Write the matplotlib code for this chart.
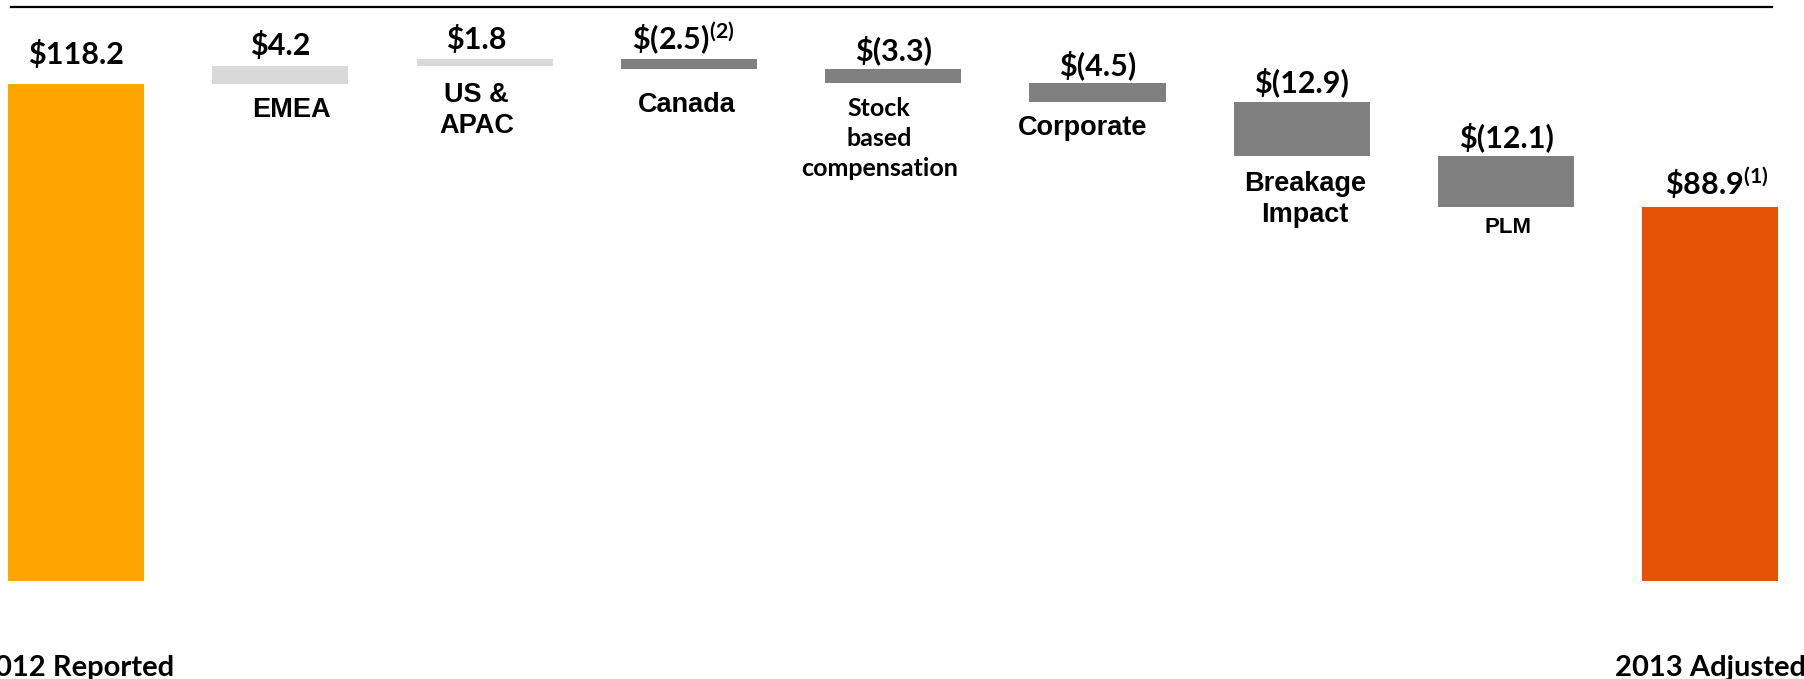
import matplotlib
matplotlib.use("Agg")
import matplotlib.pyplot as plt

# waterfall data (USD millions)
names = ["2012 Reported", "EMEA", "US &\nAPAC", "Canada", "Stock\nbased\ncompensation",
         "Corporate", "Breakage\nImpact", "PLM", "2013 Adjusted"]
values = [118.2, 4.2, 1.8, -2.5, -3.3, -4.5, -12.9, -12.1, 88.9]
value_text = ["$118.2", "$4.2", "$1.8", "$(2.5)", "$(3.3)", "$(4.5)", "$(12.9)", "$(12.1)", "$88.9"]
notes = ["", "", "", "(2)", "", "", "", "", "(1)"]
is_total = [True, False, False, False, False, False, False, False, True]

# layout tweaks, in pixels
val_gap = [20, 11, 10, 9, 9, 8, 10, 9, 12]
val_dx = [0, 0, -8, -6, 0, 0, 0, 0, 6]
name_gap = [74, 13, 16, 23, 14, 13, 15, 10, 74]
name_dx = [0, 11, -8, -2, -14, -15, 3, 2, 0]

plt.rcParams['mathtext.default'] = 'regular'
px = 0.72  # points per pixel at dpi 100

fig = plt.figure(figsize=(18.04, 6.79), dpi=100)
ax = fig.add_axes([0, 0, 1, 1])
ax.axis('off')
ax.set_xlim(-0.372, 8.458)
ax.set_ylim(-23.3, 138.2)

bottoms = []
heights = []
colors = []
run = 0.0
for i, v in enumerate(values):
	if is_total[i]:
		bottoms.append(0)
		heights.append(v)
		run = v
		colors.append('#FFA500' if i == 0 else '#E35205')
	else:
		bottoms.append(min(run, run + v))
		heights.append(abs(v))
		run += v
		colors.append('#D9D9D9' if v > 0 else '#808080')

x = list(range(len(values)))
ax.bar(x, heights, bottom=bottoms, width=0.666, color=colors, edgecolor='none')

ax.axhline(136.5, xmin=0.006, xmax=0.982, color='black', lw=1.6)

for i in x:
	top = bottoms[i] + heights[i]
	s = value_text[i]
	if notes[i]:
		s = "\\" + s[:-1] + "$" + s[-1] + "^{" + notes[i] + "}$"
	ax.annotate(s, xy=(i, top), xytext=(val_dx[i] * px, val_gap[i] * px),
		textcoords='offset points', ha='center', va='baseline',
		fontsize=22, fontweight='bold', family='Lato')

	if is_total[i]:
		fam, size, ls = 'Lato', 21, 1.2
	elif i == 4:
		fam, size, ls = 'Lato', 18, 1.37
	elif i == 7:
		fam, size, ls = 'Liberation Sans', 16, 1.2
	else:
		fam, size, ls = 'Liberation Sans', 19.5, 1.24
	ax.annotate(names[i], xy=(i, bottoms[i]), xytext=(name_dx[i] * px, -name_gap[i] * px),
		textcoords='offset points', ha='center', va='top', multialignment='center',
		fontsize=size, fontweight='bold', family=fam, linespacing=ls)

fig.savefig("out.png", dpi=100)
